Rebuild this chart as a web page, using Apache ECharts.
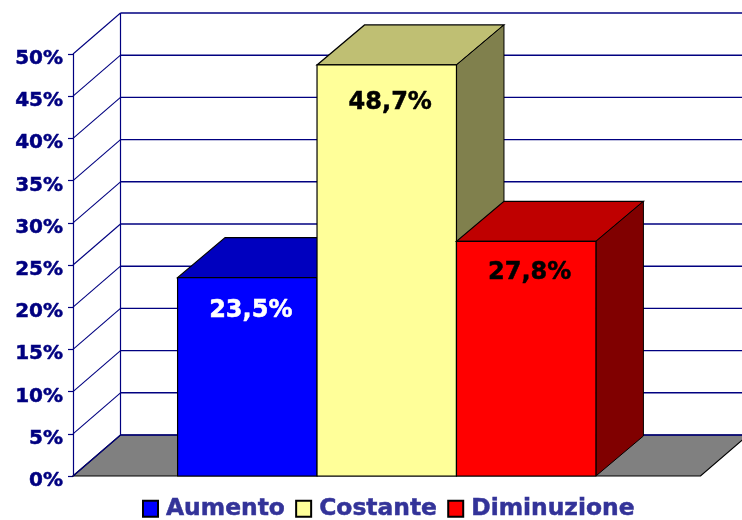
<!DOCTYPE html>
<html><head><meta charset="utf-8">
<style>html,body{margin:0;padding:0;background:#fff}#c{width:742px;height:520px}</style>
<script src="https://cdn.jsdelivr.net/npm/echarts@6/dist/echarts.min.js"></script>
</head><body><div id="c"></div>
<script>
const categories = ['Aumento', 'Costante', 'Diminuzione'];
const values = [23.5, 48.7, 27.8];
const valueLabels = ['23,5%', '48,7%', '27,8%'];
const yTicks = [0, 5, 10, 15, 20, 25, 30, 35, 40, 45, 50];

const DX = 47.5, WALL_DY = -41, BAR_DY = -40, GAP = 0.75, NAVY = '#000080', FONT = '"DejaVu Sans"';
const looks = [
  {front: '#0000FF', top: '#0000BF', side: '#000080', text: '#FFFFFF', dy: 33},
  {front: '#FFFF99', top: '#BFBF73', side: '#80804D', text: '#000000', dy: 38},
  {front: '#FF0000', top: '#BF0000', side: '#800000', text: '#000000', dy: 31.5}
];
const chart = echarts.init(document.getElementById('c'), null, {renderer: 'canvas'});

function poly(points, fill, stroke, w) {
  return {type: 'polygon', shape: {points}, style: {fill, stroke, lineWidth: w === undefined ? 1 : w}};
}
function line(a, b, stroke, w) {
  return {type: 'line', shape: {x1: a[0], y1: a[1], x2: b[0], y2: b[1]}, style: {stroke, lineWidth: w || 1}};
}
const floorSeries = {
  type: 'custom', name: 'floor', silent: true, z: 1, data: [[0, 0]],
  renderItem(p, api) {
    const a = api.coord([0, 0]), b = api.coord([categories.length + 2 * GAP, 0]);
    return poly([a, b, [b[0] + DX, b[1] + WALL_DY], [a[0] + DX, a[1] + WALL_DY]], '#808080', '#000000', 1.2);
  }
};
const wallSeries = {
  type: 'custom', name: 'wall', silent: true, z: 2, data: yTicks.map(t => [0, t]),
  renderItem(p, api) {
    const v = api.value(1);
    const a = api.coord([0, v]), b = api.coord([categories.length + 2 * GAP, v]);
    const c = [a[0] + DX, a[1] + WALL_DY];
    return {type: 'group', children: [
      line(a, c, NAVY, 1.1),
      line(c, [b[0] + DX, b[1] + WALL_DY], NAVY, 1.4)
    ]};
  }
};
const backAxisSeries = {
  type: 'custom', name: 'backAxis', silent: true, z: 2, data: [[0, yTicks[yTicks.length - 1]]],
  renderItem(p, api) {
    const t = api.coord([0, api.value(1)]), o = api.coord([0, 0]);
    return line([t[0] + DX, t[1] + WALL_DY], [o[0] + DX, o[1] + WALL_DY], NAVY, 1.2);
  }
};
const barSeries = categories.map((name, i) => ({
  type: 'custom', name, z: 3 + i, silent: true,
  itemStyle: {color: looks[i].front, borderColor: '#000', borderWidth: 1},
  data: [[i, values[i]]],
  renderItem(p, api) {
    const x = api.value(0) + GAP, v = api.value(1), s = looks[i];
    const tl = api.coord([x, v]), tr = api.coord([x + 1, v]);
    const bl = api.coord([x, 0]), br = api.coord([x + 1, 0]);
    const sh = q => [q[0] + DX, q[1] + BAR_DY];
    return {type: 'group', children: [
      poly([tl, tr, sh(tr), sh(tl)], s.top, '#000', 1.2),
      poly([tr, br, sh(br), sh(tr)], s.side, '#000', 1),
      poly([tl, tr, br, bl], s.front, '#000', 1.2),
      {type: 'text', z2: 10, style: {
        text: valueLabels[i], x: (tl[0] + tr[0]) / 2 + 3.5, y: tl[1] + s.dy,
        align: 'center', verticalAlign: 'middle', fill: s.text,
        stroke: s.text, lineWidth: 0.5,
        font: 'bold 24px ' + FONT
      }}
    ]};
  }
}));

chart.setOption({
  animation: false,
  backgroundColor: '#fff',
  grid: {left: 73, top: 54, width: 627.5, height: 422, containLabel: false},
  xAxis: {type: 'value', min: 0, max: categories.length + 2 * GAP, show: false},
  yAxis: {
    type: 'value', min: 0, max: 50, interval: 5,
    axisLine: {show: true, lineStyle: {color: NAVY, width: 1.2}},
    axisTick: {show: true, length: 5, lineStyle: {color: NAVY, width: 1.2}},
    splitLine: {show: false},
    axisLabel: {formatter: '{value}%', color: NAVY, fontFamily: FONT, fontWeight: 'bold', fontSize: 20, margin: 10,
      verticalAlign: 'top', lineHeight: 9.4,
      textBorderColor: NAVY, textBorderWidth: 0.5}
  },
  legend: {
    data: categories, left: 142, top: 497, padding: 0, icon: 'rect', itemWidth: 15, itemHeight: 16, itemGap: 10,
    selectedMode: false,
    textStyle: {color: '#333399', fontFamily: FONT, fontWeight: 'bold', fontSize: 23.4, padding: [0, 0, 0, 3],
      textBorderColor: '#333399', textBorderWidth: 0.5}
  },
  series: [floorSeries, wallSeries, backAxisSeries, ...barSeries]
});
</script></body></html>
